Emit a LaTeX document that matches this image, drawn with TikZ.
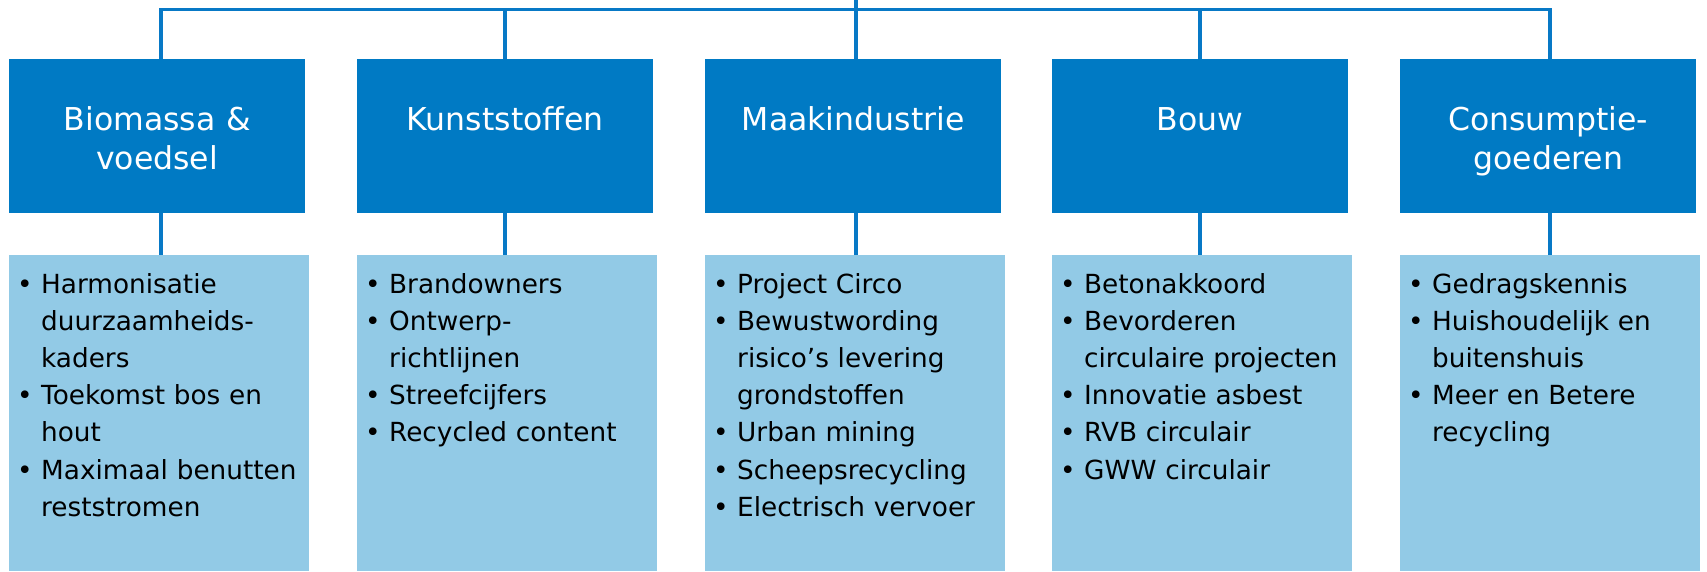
\documentclass[tikz,border=0pt]{standalone}
\usepackage{fontspec}
\setmainfont{DejaVu Sans}
\definecolor{darkblue}{RGB}{0,122,196}
\definecolor{lightblue}{RGB}{146,202,230}
\definecolor{linecol}{RGB}{8,121,198}
\newcommand\bitem[1]{\par\noindent\hangindent=24pt\hangafter=1\makebox[24pt][l]{•}\rule{0pt}{26pt}#1\par}
\begin{document}
\begin{tikzpicture}[x=1pt,y=-1pt,
  topbox/.style={fill=darkblue, draw=none, anchor=north west, minimum width=296pt, minimum height=153.5pt, inner sep=0pt},
  listbox/.style={fill=lightblue, draw=none, anchor=north west, minimum width=300pt, minimum height=316pt, inner sep=0pt},
  title/.style={anchor=north, text=white, inner sep=0pt, text width=290pt, align=center, font=\fontsize{31.5}{39}\selectfont, yshift=-39.5pt},
  items/.style={anchor=north west, inner sep=0pt, text width=290pt, align=left, font=\fontsize{26.3}{37.2}\selectfont, xshift=8pt, yshift=-0.7pt},
  conn/.style={draw=linecol, line width=3.6pt}]
\useasboundingbox (0,0) rectangle (1707,571);

% top boxes
\node[topbox] (b1) at (9,59) {};
\node[topbox] (b2) at (357,59) {};
\node[topbox] (b3) at (705,59) {};
\node[topbox] (b4) at (1052,59) {};
\node[topbox] (b5) at (1400,59) {};

% list boxes
\node[listbox] (l1) at (9,255) {};
\node[listbox] (l2) at (357,255) {};
\node[listbox] (l3) at (705,255) {};
\node[listbox] (l4) at (1052,255) {};
\node[listbox] (l5) at (1400,255) {};

% titles
\node[title] (t1) at (b1.north) {\rule{0pt}{32pt}Biomassa \&\\voedsel};
\node[title] (t2) at (b2.north) {\rule{0pt}{32pt}Kunststoffen};
\node[title] (t3) at (b3.north) {\rule{0pt}{32pt}Maakindustrie};
\node[title] (t4) at (b4.north) {\rule{0pt}{32pt}Bouw};
\node[title] (t5) at (b5.north) {\rule{0pt}{32pt}Consumptie-\\goederen};

% items
\node[items] (i1) at (l1.north west) {%
\bitem{Harmonisatie\newline duurzaamheids-\newline kaders}%
\bitem{Toekomst bos en\newline hout}%
\bitem{Maximaal benutten\newline reststromen}};
\node[items] (i2) at (l2.north west) {%
\bitem{Brandowners}%
\bitem{Ontwerp-\newline richtlijnen}%
\bitem{Streefcijfers}%
\bitem{Recycled content}};
\node[items] (i3) at (l3.north west) {%
\bitem{Project Circo}%
\bitem{Bewustwording\newline risico’s levering\newline grondstoffen}%
\bitem{Urban mining}%
\bitem{Scheepsrecycling}%
\bitem{Electrisch vervoer}};
\node[items] (i4) at (l4.north west) {%
\bitem{Betonakkoord}%
\bitem{Bevorderen\newline circulaire projecten}%
\bitem{Innovatie asbest}%
\bitem{RVB circulair}%
\bitem{GWW circulair}};
\node[items] (i5) at (l5.north west) {%
\bitem{Gedragskennis}%
\bitem{Huishoudelijk en\newline buitenshuis}%
\bitem{Meer en Betere\newline recycling}};

% connectors
\coordinate (bus) at (0,9.5);
\coordinate (root) at (856,0);
\draw[conn] ([xshift=4pt]b1.north) -- ([xshift=4pt]b1.north |- bus) -- ([xshift=2pt]b5.north |- bus) -- ([xshift=2pt]b5.north);
\draw[conn] (b2.north) -- (b2.north |- bus);
\draw[conn] (b4.north) -- (b4.north |- bus);
\draw[conn] (root) -- (root |- b3.north);
\draw[conn] ([xshift=4pt]b1.south) -- ([xshift=4pt]b1.south |- l1.north);
\draw[conn] (b2.south) -- (b2.south |- l2.north);
\draw[conn] ([xshift=3pt]b3.south) -- ([xshift=3pt]b3.south |- l3.north);
\draw[conn] (b4.south) -- (b4.south |- l4.north);
\draw[conn] ([xshift=2pt]b5.south) -- ([xshift=2pt]b5.south |- l5.north);
\end{tikzpicture}
\end{document}
